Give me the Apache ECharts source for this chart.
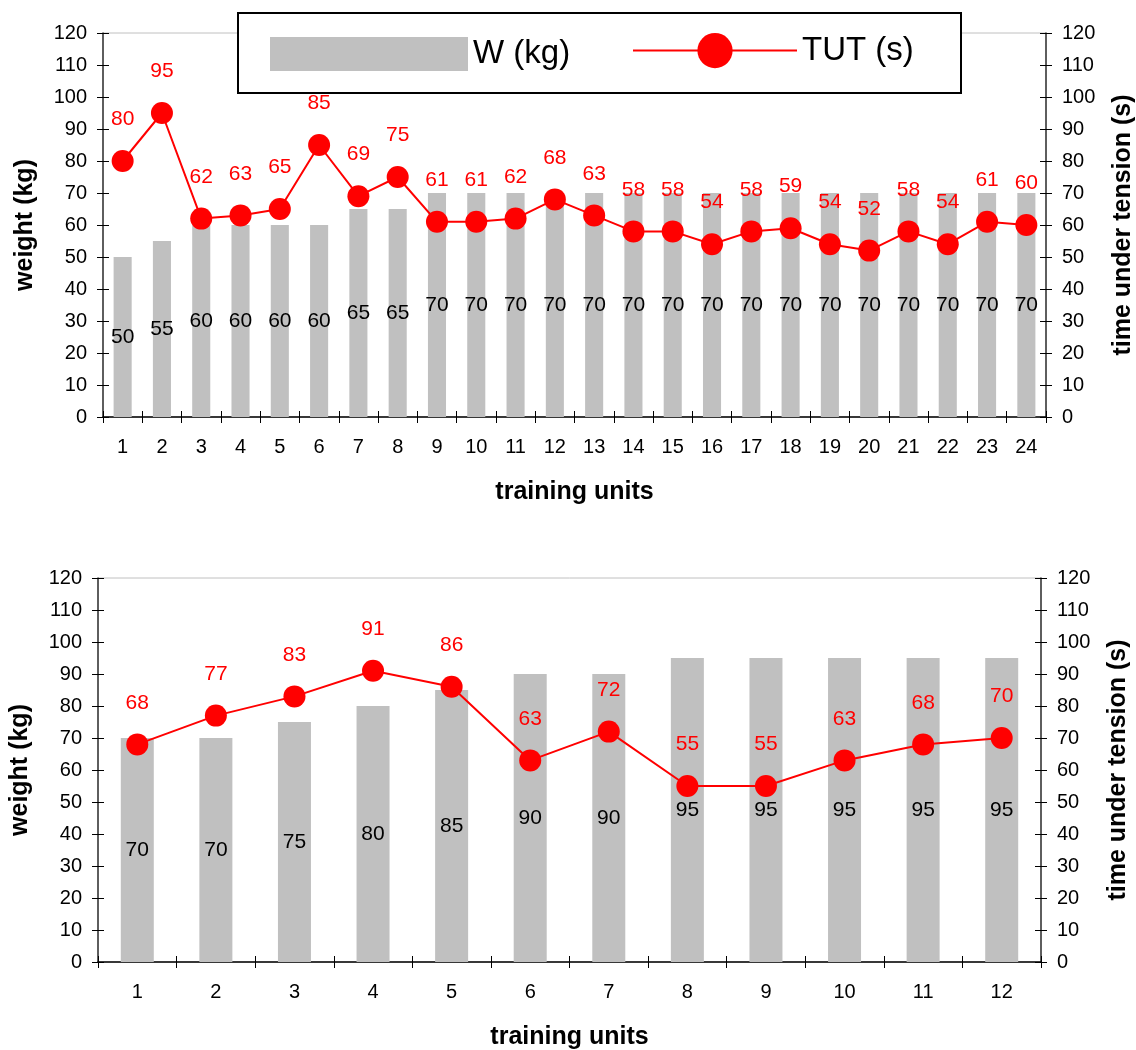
<!DOCTYPE html>
<html>
<head>
<meta charset="utf-8">
<script src="https://cdn.jsdelivr.net/npm/echarts@6/dist/echarts.min.js"></script>
<style>
html,body{margin:0;padding:0;background:#fff;}
#chart{width:1136px;height:1050px;}
</style>
</head>
<body>
<div id="chart"></div>
<script>
// ---- data ----
const unitsA = ['1','2','3','4','5','6','7','8','9','10','11','12','13','14','15','16','17','18','19','20','21','22','23','24'];
const weightA = [50,55,60,60,60,60,65,65,70,70,70,70,70,70,70,70,70,70,70,70,70,70,70,70];
const tutA = [80,95,62,63,65,85,69,75,61,61,62,68,63,58,58,54,58,59,54,52,58,54,61,60];

const unitsB = ['1','2','3','4','5','6','7','8','9','10','11','12'];
const weightB = [70,70,75,80,85,90,90,95,95,95,95,95];
const tutB = [68,77,83,91,86,63,72,55,55,63,68,70];

const yTicksMin = 0, yTicksMax = 120, yTickStep = 10;
const nameW = 'W (kg)', nameT = 'TUT (s)';
const labelY1 = 'weight (kg)', labelY2 = 'time under tension (s)', labelX = 'training units';

// ---- styles ----
const FONT = "'Liberation Sans', Arial, sans-serif";
const GRAY = '#c0c0c0';
const RED = '#ff0000';

function xMain(gridIndex, data) {
  return {
    type: 'category', gridIndex, data, position: 'bottom',
    axisLine: {show: true, onZero: false, lineStyle: {color: '#000', width: 1.5}},
    axisTick: {show: true, length: 6, lineStyle: {color: '#000', width: 1}},
    axisLabel: {fontSize: 20, color: '#000', fontFamily: FONT, margin: 20},
    name: labelX, nameLocation: 'middle', nameGap: 63,
    nameTextStyle: {fontSize: 25, fontWeight: 'bold', color: '#000', fontFamily: FONT}
  };
}
function xInner(gridIndex, data) {
  return {
    type: 'category', gridIndex, data, position: 'bottom',
    axisLine: {show: false, onZero: false},
    axisTick: {show: true, inside: true, length: 6, lineStyle: {color: '#000', width: 1}},
    axisLabel: {show: false}
  };
}
function yMain(gridIndex, pos, name) {
  return {
    type: 'value', gridIndex, position: pos, min: yTicksMin, max: yTicksMax, interval: yTickStep,
    axisLine: {show: true, lineStyle: {color: '#333', width: 1.5}},
    axisTick: {show: true, length: 6, lineStyle: {color: '#000', width: 1}},
    axisLabel: {fontSize: 20, color: '#000', fontFamily: FONT, margin: 16},
    splitLine: {show: false},
    name, nameLocation: 'middle', nameRotate: 90, nameGap: 65,
    nameTextStyle: {fontSize: 25, fontWeight: 'bold', color: '#000', fontFamily: FONT}
  };
}
function yInner(gridIndex, pos) {
  return {
    type: 'value', gridIndex, position: pos, min: yTicksMin, max: yTicksMax, interval: yTickStep,
    axisLine: {show: false},
    axisTick: {show: true, inside: true, length: 6, lineStyle: {color: '#000', width: 1}},
    axisLabel: {show: false},
    splitLine: {show: false}
  };
}
function barSeries(xi, yi, data, bw) {
  return {
    type: 'bar', name: nameW, xAxisIndex: xi, yAxisIndex: yi, data, barWidth: bw,
    itemStyle: {color: GRAY},
    label: {show: true, position: 'inside', color: '#000', fontSize: 21, fontFamily: FONT},
    z: 2
  };
}
function lineSeries(xi, yi, data) {
  return {
    type: 'line', name: nameT, xAxisIndex: xi, yAxisIndex: yi, data,
    symbol: 'circle', symbolSize: 22,
    lineStyle: {color: RED, width: 2},
    itemStyle: {color: RED},
    label: {show: true, position: 'top', distance: 20, color: RED, fontSize: 21, fontFamily: FONT},
    z: 3
  };
}

const chart = echarts.init(document.getElementById('chart'), null, {renderer: 'canvas'});
chart.setOption({
  animation: false,
  backgroundColor: '#fff',
  textStyle: {fontFamily: FONT},
  grid: [
    {left: 103, right: 90, top: 33, height: 384, containLabel: false, outerBoundsMode: 'none',
     show: true, borderColor: GRAY, borderWidth: 1, backgroundColor: 'transparent'},
    {left: 98, right: 95, top: 578, height: 384, containLabel: false, outerBoundsMode: 'none',
     show: true, borderColor: GRAY, borderWidth: 1, backgroundColor: 'transparent'}
  ],
  xAxis: [xMain(0, unitsA), xInner(0, unitsA), xMain(1, unitsB), xInner(1, unitsB)],
  yAxis: [
    yMain(0, 'left', labelY1), yMain(0, 'right', labelY2), yInner(0, 'left'), yInner(0, 'right'),
    yMain(1, 'left', labelY1), yMain(1, 'right', labelY2), yInner(1, 'left'), yInner(1, 'right')
  ],
  graphic: [
    {type: 'rect', left: 237, top: 12, shape: {width: 723, height: 80},
     style: {fill: '#fff', stroke: '#000', lineWidth: 2}, z: 50}
  ],
  legend: [
    {data: [{name: nameW, icon: 'rect'}], left: 270, top: 37, padding: 0, itemWidth: 198, itemHeight: 34, z: 60,
     textStyle: {fontSize: 33, color: '#000', fontFamily: FONT}, selectedMode: false},
    {data: [nameT], left: 632, top: 33, padding: 0, itemWidth: 164, itemHeight: 44, z: 60,
     textStyle: {fontSize: 33, color: '#000', fontFamily: FONT}, selectedMode: false}
  ],
  series: [
    barSeries(0, 0, weightA, '46%'),
    lineSeries(0, 1, tutA),
    barSeries(2, 4, weightB, '42%'),
    lineSeries(2, 5, tutB)
  ]
});
</script>
</body>
</html>
